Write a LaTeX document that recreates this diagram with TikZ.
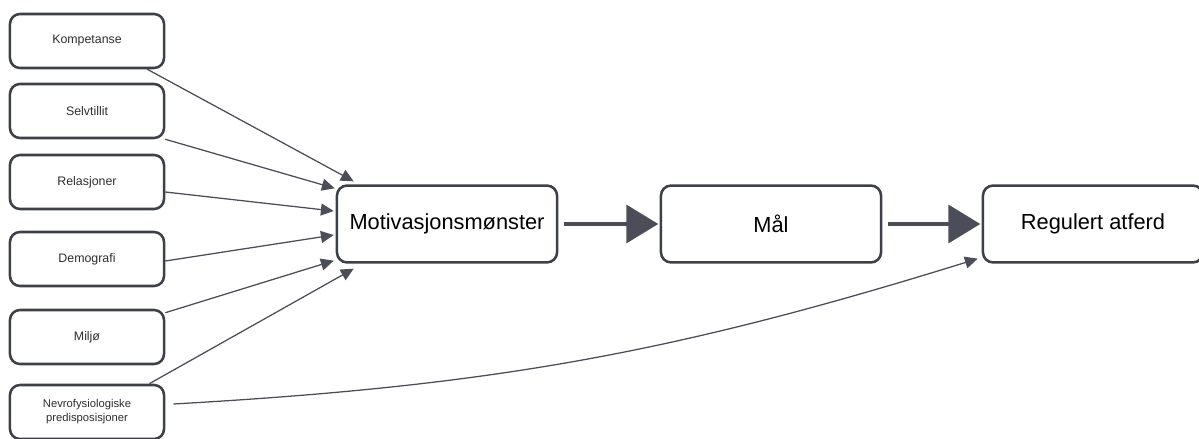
\documentclass[tikz,border=0pt]{standalone}
\usepackage{fontspec}
\setmainfont{Liberation Sans}
\usetikzlibrary{arrows.meta, calc, positioning}
\definecolor{pencil}{HTML}{3E4048}
\definecolor{arrowgray}{HTML}{4B4E58}
\definecolor{inkgray}{HTML}{2E2E30}
\tikzset{Motiv/.style={
    x=0.025cm, y=-0.025cm,
    base/.style = {draw=pencil, line width=1.8pt, rounded corners=2.5mm, fill=white, align=center},
    factor/.style = {base, minimum width=3.85cm, minimum height=1.35cm, text=inkgray, font=\fontsize{8.8}{10.5}\selectfont},
    stage/.style = {base, minimum width=5.5cm, minimum height=1.92cm, font=\fontsize{15.5}{18}\selectfont},
    feed/.style = {draw=arrowgray, line width=0.9pt, -{Triangle[length=3.2mm, width=3mm]}},
    flow/.style = {draw=arrowgray, line width=2.6pt, -{Triangle[length=8mm, width=9.5mm]}, shorten >=1pt, shorten <=4pt}
}}

\begin{document}
\begin{tikzpicture}[Motiv]
        \useasboundingbox (0,0) rectangle (1199,439);

        \node [factor] (kompetanse) at (87,41) {Kompetanse};
        \node [factor] (selvtillit) at (87,111) {Selvtillit};
        \node [factor] (relasjoner) at (87,182) {Relasjoner};
        \node [factor] (demografi) at (87,259) {Demografi};
        \node [factor] (miljo) at (87,337) {Miljø};
        \node [factor, font=\fontsize{8}{10}\selectfont] (nevro) at (87,412) {Nevrofysiologiske\\predisposisjoner};

        \node [stage] (motiv) at (447,224) {Motivasjonsmønster};
        \node [stage] (maal) at (771,224) {Mål};
        \node [stage] (atferd) at (1093,224) {Regulert atferd};

        \coordinate (k1) at ($(kompetanse.south east)+(-18,0)$);
        \coordinate (r1) at ($(relasjoner.east)+(0,10)$);
        \coordinate (d1) at ($(demografi.east)+(0,2)$);
        \coordinate (m1) at ($(miljo.north east)+(0,4)$);
        \coordinate (n1) at ($(nevro.north east)+(-16,0)$);
        \coordinate (n2) at ($(nevro.east)+(8,-8)$);

        \path
        (k1) edge [feed] ($(motiv.north west)+(18,-3)$)
        (selvtillit.south east) edge [feed] ($(motiv.north west)+(-1,4)$)
        (r1) edge [feed] ($(motiv.west)+(-2,-13)$)
        (d1) edge [feed] ($(motiv.west)+(-2,11)$)
        (m1) edge [feed] ($(motiv.south west)+(-2,-3)$)
        (n1) edge [feed] ($(motiv.south west)+(18,5)$)
        (n2) edge [feed, bend right=7] ($(atferd.south west)+(-4,-5)$);

        \draw [flow] (motiv) -- (maal);
        \draw [flow] (maal) -- (atferd);
    \end{tikzpicture}
\end{document}
